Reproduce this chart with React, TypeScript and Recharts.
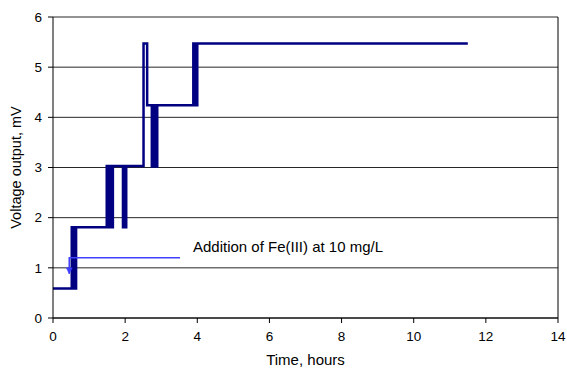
import React from 'react';
import { LineChart, Line, XAxis, YAxis, CartesianGrid, ReferenceLine, LabelList } from 'recharts';

// Time (hours) and voltage (mV) readings of the sensor trace
const timeHours = [
  0, 0.52, 0.52, 0.56, 0.56, 0.59, 0.59, 0.61, 0.61, 0.64, 0.64,
  1.49, 1.49, 1.53, 1.53, 1.56, 1.56, 1.59, 1.59, 1.62, 1.62, 1.64, 1.64, 1.66, 1.66,
  1.94, 1.94, 1.97, 1.97, 2.0, 2.0, 2.03, 2.03,
  2.51, 2.51, 2.61, 2.61,
  2.74, 2.74, 2.77, 2.77, 2.8, 2.8, 2.83, 2.83, 2.86, 2.86, 2.89, 2.89,
  3.89, 3.89, 3.92, 3.92, 3.95, 3.95, 3.98, 3.98, 4.0, 4.0,
  11.5,
];
const voltage = [
  0.59, 0.59, 1.81, 1.81, 0.59, 0.59, 1.81, 1.81, 0.59, 0.59, 1.81,
  1.81, 3.03, 3.03, 1.81, 1.81, 3.03, 3.03, 1.81, 1.81, 3.03, 3.03, 1.81, 1.81, 3.03,
  3.03, 1.81, 1.81, 3.03, 3.03, 1.81, 1.81, 3.03,
  3.03, 5.47, 5.47, 4.24,
  4.24, 3.02, 3.02, 4.24, 4.24, 3.02, 3.02, 4.24, 4.24, 3.02, 3.02, 4.24,
  4.24, 5.47, 5.47, 4.24, 4.24, 5.47, 5.47, 4.24, 4.24, 5.47,
  5.47,
];

// Annotation callout path (hours, mV)
const noteTime = [3.52, 0.45, 0.45];
const noteVolt = [1.2, 1.2, 0.88];
const noteText = 'Addition of Fe(III) at 10 mg/L';

const xTicks = [0, 2, 4, 6, 8, 10, 12, 14];
const yTicks = [0, 1, 2, 3, 4, 5, 6];

const traceData = timeHours.map((t, i) => ({ t, v: voltage[i] }));
const noteData = noteTime.map((t, i) => ({ t, v: noteVolt[i] }));

const FONT = '"Liberation Sans", Arial, Helvetica, sans-serif';
const NOTE_COLOR = '#4040ff';

const ArrowDot = (props: any) => {
  const { cx, cy, index } = props;
  if (index !== noteData.length - 1 || cx == null) return <g key={`a${index}`} />;
  return (
    <path
      key={`a${index}`}
      d={`M${cx - 3},${cy - 6} L${cx + 3},${cy - 6} L${cx},${cy} Z`}
      fill={NOTE_COLOR}
      stroke={NOTE_COLOR}
      strokeWidth={0.5}
    />
  );
};

const NoteLabel = (props: any) => {
  const { x, y, index } = props;
  if (index !== 0) return null;
  return (
    <text x={x + 13} y={y - 11} fontFamily={FONT} fontSize={15} fill="#000" dominantBaseline="central">
      {noteText}
    </text>
  );
};

const YTitle = (props: any) => {
  const vb = props.viewBox || { x: 0, y: 17, width: 53, height: 301 };
  const x = vb.x + 16;
  const y = vb.y + vb.height / 2;
  return (
    <text x={x} y={y} transform={`rotate(-90, ${x}, ${y})`} textAnchor="middle" dominantBaseline="central"
      fontFamily={FONT} fontSize={14.5} fill="#000">
      Voltage output, mV
    </text>
  );
};

const XTitle = (props: any) => {
  const vb = props.viewBox || { x: 53, y: 318, width: 505, height: 30 };
  const x = vb.x + vb.width / 2;
  const y = vb.y + 41;
  return (
    <text x={x} y={y} textAnchor="middle" dominantBaseline="central" fontFamily={FONT} fontSize={15} fill="#000">
      Time, hours
    </text>
  );
};

export default function App() {
  return (
    <div style={{ position: 'absolute', left: 0, top: 0, width: 567, height: 369, background: '#fff' }}>
      <LineChart width={567} height={369} margin={{ top: 17, right: 9, bottom: 21, left: 0 }}>
        <CartesianGrid horizontal={true} vertical={false} stroke="#000" strokeOpacity={0.85} />
        <XAxis
          type="number"
          dataKey="t"
          domain={[0, 14]}
          ticks={xTicks}
          height={30}
          tickSize={5}
          tickMargin={8}
          axisLine={{ stroke: '#000' }}
          tickLine={{ stroke: '#000' }}
          tick={{ fill: '#000', fontSize: 13.5, fontFamily: FONT }}
          allowDataOverflow
          label={<XTitle />}
        />
        <YAxis
          type="number"
          dataKey="v"
          domain={[0, 6]}
          ticks={yTicks}
          width={53}
          tickSize={5}
          tickMargin={6}
          axisLine={{ stroke: '#000' }}
          tickLine={{ stroke: '#000' }}
          tick={{ fill: '#000', fontSize: 13.5, fontFamily: FONT }}
          allowDataOverflow
          label={<YTitle />}
        />
        <ReferenceLine x={14} stroke="#000" />
        <Line
          data={traceData}
          dataKey="v"
          type="linear"
          stroke="#000080"
          strokeWidth={2.5}
          dot={false}
          activeDot={false}
          isAnimationActive={false}
        />
        <Line
          data={noteData}
          dataKey="v"
          type="linear"
          stroke={NOTE_COLOR}
          strokeWidth={1.5}
          dot={<ArrowDot />}
          activeDot={false}
          isAnimationActive={false}
        >
          <LabelList dataKey="v" content={<NoteLabel />} />
        </Line>
      </LineChart>
    </div>
  );
}
